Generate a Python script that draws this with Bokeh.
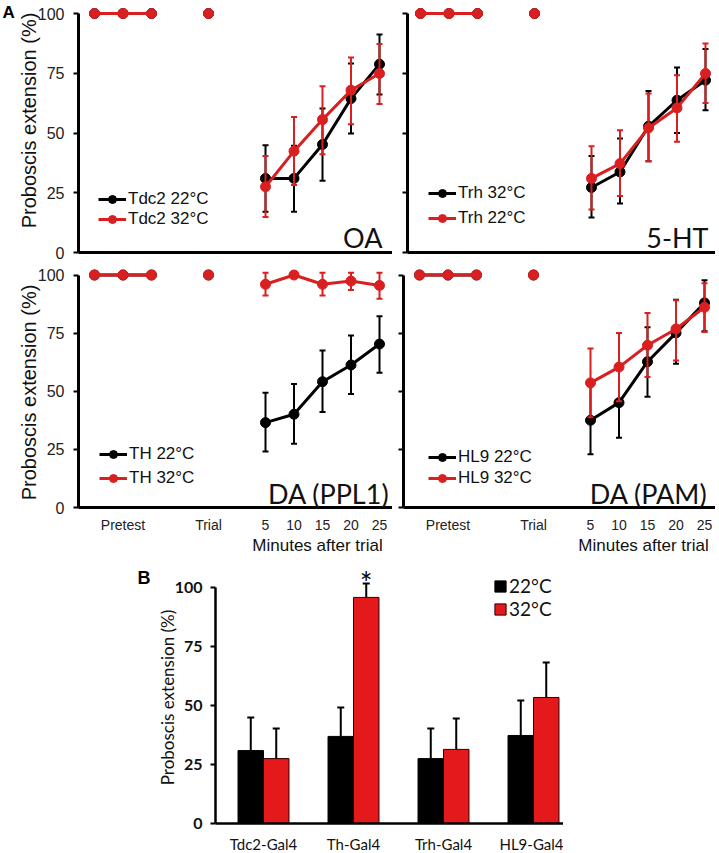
import numpy as np
from bokeh.plotting import figure
from bokeh.models import Range1d, FixedTicker, Legend, LegendItem, Label
from bokeh.layouts import column, row
from bokeh.embed import file_html
from bokeh.resources import INLINE
from bokeh.core.properties import value

# ---------------- data ----------------
pretest_x = [1, 2, 3]
trial_x = [5]
minutes = [5, 10, 15, 20, 25]
pretest_vals = [100, 100, 100]
trial_vals = [100]
x_tick_pos = [2, 5, 7, 8, 9, 10, 11]
x_tick_labels = ["Pretest", "Trial", "5", "10", "15", "20", "25"]
y_ticks = [0, 25, 50, 75, 100]

# OA panel
tdc2_22 = [31.0, 31.0, 45.2, 64.4, 78.8]
tdc2_22_hi = [44.9, 44.7, 60.3, 79.1, 91.2]
tdc2_22_lo = [17.0, 17.0, 30.0, 49.8, 66.1]
tdc2_32 = [27.5, 42.4, 55.6, 67.9, 74.9]
tdc2_32_hi = [40.4, 56.7, 69.6, 81.6, 87.2]
tdc2_32_lo = [14.9, 28.2, 41.1, 53.7, 62.1]

# 5-HT panel
trh_32 = [27.2, 33.7, 52.8, 63.7, 72.1]
trh_32_hi = [40.4, 47.7, 67.6, 77.4, 85.1]
trh_32_lo = [14.6, 20.5, 38.2, 50.0, 59.5]
trh_22 = [31.0, 37.2, 52.1, 60.5, 74.9]
trh_22_hi = [44.5, 51.2, 66.5, 74.2, 87.4]
trh_22_lo = [18.0, 23.6, 38.2, 46.3, 62.6]

# DA (PPL1) panel
th_22 = [36.5, 40.1, 54.1, 61.3, 70.3]
th_22_hi = [49.4, 53.1, 67.5, 74.0, 82.3]
th_22_lo = [24.1, 27.4, 41.1, 48.8, 58.0]
th_32 = [96.0, 100.0, 96.0, 97.4, 95.5]
th_32_hi = [101.0, 100.0, 101.0, 101.0, 101.0]
th_32_lo = [91.2, 100.0, 91.2, 93.5, 89.8]

# DA (PAM) panel
hl9_22 = [37.5, 45.1, 62.7, 75.1, 88.0]
hl9_22_hi = [52.5, 60.0, 77.5, 89.4, 97.7]
hl9_22_lo = [22.9, 30.0, 47.6, 61.8, 75.8]
hl9_32 = [53.6, 60.4, 69.8, 76.8, 86.1]
hl9_32_hi = [68.4, 75.1, 83.7, 89.1, 96.5]
hl9_32_lo = [38.8, 45.7, 56.1, 63.2, 75.5]

# Panel B
groups = ["Tdc2-Gal4", "Th-Gal4", "Trh-Gal4", "HL9-Gal4"]
b22 = [30.9, 36.9, 27.5, 37.3]
b22_top_err = [44.9, 49.2, 40.3, 52.1]
b32 = [27.5, 95.8, 31.4, 53.4]
b32_top_err = [40.3, 101.7, 44.5, 68.2]
b_legend = ["22°C", "32°C"]

RED = "#d91f1f"
RED_BAR = "#e3191b"
BLACK = "#000000"
ARIAL = "Liberation Sans"
CAL = "Lato"

PX = 28.5  # pixels per x unit in panel A


def min_pos(m):
    return 7 + (m - 5) / 5


def style_axis(ax, line_w=3):
    ax.axis_line_width = line_w
    ax.major_tick_line_width = 2
    ax.major_tick_in = 0
    ax.minor_tick_out = 0
    ax.minor_tick_in = 0


def make_panel(box, x_ref_px, zero_px, ppy, axis_px, series, leg_labels, leg_loc,
               leg_spacing, title, title_px, show_xlabels, show_ylabels,
               ylabel_px=None, minutes_px=None, letter_px=None):
    """box = (left, top, right, bottom) in page pixels; x=1 lies at x_ref_px;
    y=0 lies at zero_px; axis_px is the page x of the y axis."""
    L, T, R, B = box
    W, H = R - L, B - T

    def dx(px):
        return 1 + (px - x_ref_px) / PX

    def dy(py):
        return (zero_px - py) / ppy

    p = figure(width=W, height=H,
               x_range=Range1d(dx(L), dx(R)), y_range=Range1d(dy(B), dy(T)),
               output_backend="svg", toolbar_location=None,
               min_border_left=0, min_border_right=0,
               min_border_top=0, min_border_bottom=0)
    p.xgrid.visible = False
    p.ygrid.visible = False
    p.outline_line_color = None
    p.background_fill_color = "white"
    p.border_fill_color = "white"

    ya = p.yaxis[0]
    ya.fixed_location = dx(axis_px)
    ya.ticker = FixedTicker(ticks=y_ticks)
    ya.bounds = (0, 100)
    style_axis(ya)
    ya.major_tick_out = 5
    ya.major_label_text_font = ARIAL
    if show_ylabels:
        ya.major_label_standoff = 9
        ya.major_label_text_font_size = "16px"
        ya.major_label_text_color = "#222222"
    else:
        ya.major_label_standoff = 0
        ya.major_label_text_font_size = "1px"
        ya.major_label_text_color = None

    xa = p.xaxis[0]
    xa.fixed_location = 0
    xa.bounds = (dx(axis_px), dx(R))
    style_axis(xa)
    xa.major_tick_out = 0
    xa.major_label_text_font = ARIAL
    if show_xlabels:
        xa.ticker = FixedTicker(ticks=x_tick_pos)
        xa.major_label_overrides = {t: l for t, l in zip(x_tick_pos, x_tick_labels)}
        xa.major_label_text_font_size = "14px"
        xa.major_label_text_color = "#222222"
        xa.major_label_standoff = 9
    else:
        xa.ticker = FixedTicker(ticks=[])
        xa.major_label_text_font_size = "1px"
        xa.major_label_text_color = None
        xa.major_label_standoff = 0

    mx = [min_pos(m) for m in minutes]
    items = []
    for (vals, hi, lo, color), lab in zip(series, leg_labels):
        p.segment(x0=mx, y0=lo, x1=mx, y1=hi, line_color=color, line_width=2)
        p.scatter(mx, hi, marker="dash", size=6, line_color=color, line_width=2)
        p.scatter(mx, lo, marker="dash", size=6, line_color=color, line_width=2)
        p.line(pretest_x, pretest_vals, line_color=color, line_width=3)
        lr = p.line(mx, vals, line_color=color, line_width=3)
        sr = p.scatter(pretest_x + trial_x + mx, pretest_vals + trial_vals + vals,
                       size=10, fill_color=color, line_color=color)
        items.append(LegendItem(label=value(lab), renderers=[lr, sr]))

    leg = Legend(items=items, location=(leg_loc[0] - L, B - leg_loc[1]),
                 orientation="vertical",
                 glyph_width=28, glyph_height=20, label_height=20,
                 spacing=leg_spacing, padding=0, margin=0, label_standoff=2,
                 border_line_color=None, background_fill_alpha=0,
                 label_text_font=ARIAL, label_text_font_size="17px",
                 label_text_color="#111111")
    p.add_layout(leg)

    p.add_layout(Label(x=dx(title_px[0]), y=dy(title_px[1]), text=title, text_font=CAL,
                       text_font_size="27px", text_align="right",
                       text_baseline="alphabetic", text_color="#111111"))
    if ylabel_px is not None:
        p.add_layout(Label(x=dx(ylabel_px[0]), y=dy(ylabel_px[1]),
                           text="Proboscis extension (%)",
                           text_font=ARIAL, text_font_size="20px", angle=np.pi / 2,
                           text_align="center", text_baseline="middle",
                           text_color="#111111"))
    if minutes_px is not None:
        p.add_layout(Label(x=dx(minutes_px[0]), y=dy(minutes_px[1]),
                           text="Minutes after trial",
                           text_font=ARIAL, text_font_size="17px",
                           text_align="center", text_baseline="middle",
                           text_color="#111111"))
    if letter_px is not None:
        p.add_layout(Label(x=dx(letter_px[0]), y=dy(letter_px[1]),
                           text="A", text_font=ARIAL,
                           text_font_style="bold", text_font_size="17px",
                           text_align="left", text_baseline="top",
                           text_color="#000000"))
    return p


pA1 = make_panel((0, 0, 392, 262), 94, 252, 2.39, 78,
                 [(tdc2_22, tdc2_22_hi, tdc2_22_lo, BLACK), (tdc2_32, tdc2_32_hi, tdc2_32_lo, RED)],
                 ["Tdc2 22°C", "Tdc2 32°C"], (98, 229), 0, "OA", (382, 237),
                 False, True, ylabel_px=(28, 120), letter_px=(2, 2))
pA2 = make_panel((392, 0, 715, 262), 420, 252, 2.39, 407,
                 [(trh_32, trh_32_hi, trh_32_lo, BLACK), (trh_22, trh_22_hi, trh_22_lo, RED)],
                 ["Trh 32°C", "Trh 22°C"], (428, 228), 5, "5-HT", (708, 237),
                 False, False)
pA3 = make_panel((0, 262, 392, 559), 94, 507, 2.325, 78,
                 [(th_22, th_22_hi, th_22_lo, BLACK), (th_32, th_32_hi, th_32_lo, RED)],
                 ["TH 22°C", "TH 32°C"], (99, 488), 4, "DA (PPL1)", (389, 493),
                 True, True, ylabel_px=(28, 392), minutes_px=(317, 545))
pA4 = make_panel((392, 262, 715, 559), 419, 507, 2.325, 403,
                 [(hl9_22, hl9_22_hi, hl9_22_lo, BLACK), (hl9_32, hl9_32_hi, hl9_32_lo, RED)],
                 ["HL9 22°C", "HL9 32°C"], (428, 488), 1, "DA (PAM)", (707, 493),
                 True, False, minutes_px=(643, 545))

# ---------------- panel B ----------------
BPX = 90.0
BPY = 2.36
BL, BT, BR, BBOT = 0, 559, 563, 853
B_REF, B_ZERO, B_AXIS = 263, 823, 215


def bx(px):
    return 1 + (px - B_REF) / BPX


def by(py):
    return (B_ZERO - py) / BPY


pB = figure(width=BR - BL, height=BBOT - BT,
            x_range=Range1d(bx(BL), bx(BR)), y_range=Range1d(by(BBOT), by(BT)),
            output_backend="svg", toolbar_location=None,
            min_border_left=0, min_border_right=0, min_border_top=0, min_border_bottom=0)
pB.xgrid.visible = False
pB.ygrid.visible = False
pB.outline_line_color = None

gx = np.arange(1, len(groups) + 1)
w = 0.283
r22 = pB.vbar(x=gx - w / 2, top=b22, width=w, fill_color=BLACK, line_color=BLACK, line_width=1)
r32 = pB.vbar(x=gx + w / 2, top=b32, width=w, fill_color=RED_BAR, line_color="#300000", line_width=1)
for xs, tops, errs in [(gx - w / 2, b22, b22_top_err), (gx + w / 2, b32, b32_top_err)]:
    pB.segment(x0=xs, y0=tops, x1=xs, y1=errs, line_color=BLACK, line_width=2)
    pB.scatter(xs, errs, marker="dash", size=7, line_color=BLACK, line_width=2)

pB.text(x=[2 + w / 2], y=[b32_top_err[1] + 0.5], text=["*"], text_font=value(CAL),
        text_font_size="30px", text_align="center", text_baseline="alphabetic",
        text_color=BLACK)

ya = pB.yaxis[0]
ya.fixed_location = bx(B_AXIS)
ya.ticker = FixedTicker(ticks=y_ticks)
ya.bounds = (0, 100)
style_axis(ya, 2.5)
ya.major_tick_out = 5
ya.major_label_text_font = CAL
ya.major_label_text_font_style = "bold"
ya.major_label_text_font_size = "16px"
ya.major_label_text_color = "#111111"
ya.major_label_standoff = 8

xa = pB.xaxis[0]
xa.fixed_location = 0
xa.bounds = (bx(B_AXIS), bx(BR))
xa.ticker = FixedTicker(ticks=list(gx))
xa.major_label_overrides = {int(i): g for i, g in zip(gx, groups)}
style_axis(xa, 2.5)
xa.major_tick_out = 0
xa.major_label_text_font = CAL
xa.major_label_text_font_size = "15px"
xa.major_label_text_color = "#111111"
xa.major_label_standoff = 11

legB = Legend(items=[LegendItem(label=value(b_legend[0]), renderers=[r22]),
                     LegendItem(label=value(b_legend[1]), renderers=[r32])],
              location=(493 - BL, BBOT - 620), orientation="vertical",
              glyph_width=14, glyph_height=14, label_height=21, spacing=0,
              padding=0, margin=0, label_standoff=2, border_line_color=None,
              background_fill_alpha=0, label_text_font=CAL, label_text_font_size="19px",
              label_text_color="#111111")
pB.add_layout(legB)

pB.add_layout(Label(x=bx(167), y=by(697), text="Proboscis extension (%)",
                    text_font=CAL, text_font_size="17px", angle=np.pi / 2,
                    text_align="center", text_baseline="middle", text_color="#111111"))
pB.add_layout(Label(x=bx(137), y=by(567), text="B", text_font=ARIAL,
                    text_font_style="bold", text_font_size="18px",
                    text_align="left", text_baseline="top", text_color="#000000"))

layout = column(row(pA1, pA2), row(pA3, pA4), pB)
open("out.html", "w").write(file_html(layout, INLINE))
